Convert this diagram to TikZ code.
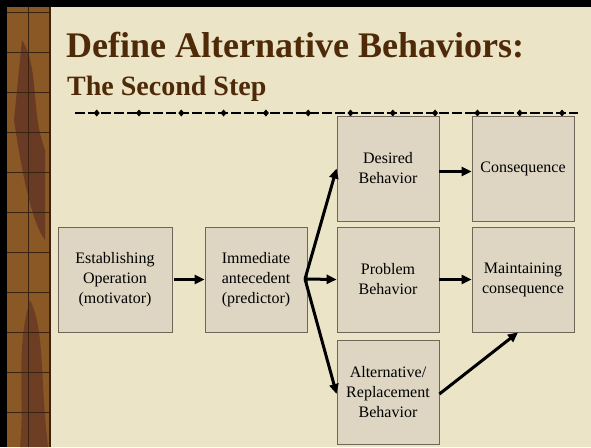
\documentclass[tikz,border=0pt]{standalone}
\usepackage{fontspec}
\setmainfont{Liberation Serif}
\usetikzlibrary{arrows.meta}

\definecolor{paper}{HTML}{EBE4C6}
\definecolor{boxfill}{HTML}{DED6C2}
\definecolor{boxline}{HTML}{6E6658}
\definecolor{titlebrown}{HTML}{4E2A08}
\definecolor{leather}{HTML}{8A5824}
\definecolor{leatherdark}{HTML}{5E3024}
\definecolor{stitch}{HTML}{3A2210}

\begin{document}
\begin{tikzpicture}[
    x=1pt, y=-1pt,
    every node/.style={font=\fontsize{16}{20}\selectfont},
    caja/.style={draw=boxline, line width=0.8pt, fill=boxfill, align=center,
                 minimum width=102pt, minimum height=105pt, inner sep=2pt},
    flecha/.style={line width=3pt, -{Triangle[length=10pt,width=9pt]}},
    titulo/.style={text=titlebrown, font=\bfseries\fontsize{36}{40}\selectfont, anchor=base west, inner sep=0pt},
    subtitulo/.style={text=titlebrown, font=\bfseries\fontsize{28}{32}\selectfont, anchor=base west, inner sep=0pt}
]
% Fondo
\fill[paper] (0,0) rectangle (591,447);
\useasboundingbox (0,0) rectangle (591,447);
% Franja izquierda
\fill[leather] (7,0) rectangle (50,447);
\fill[leatherdark, opacity=0.75] (22,40) .. controls (40,70) and (30,110) .. (45,150)
    -- (45,240) .. controls (30,220) and (20,160) .. (14,120) -- cycle;
\fill[leatherdark, opacity=0.65] (30,300) .. controls (45,330) and (40,380) .. (48,447)
    -- (20,447) .. controls (25,400) and (15,350) .. (30,300) -- cycle;
\draw[stitch, line width=0.6pt] (28,0) -- (28,447);
\foreach \y in {12,52,92,132,172,212,252,292,332,372,412} {
  \draw[stitch, line width=0.6pt] (7,\y) -- (50,\y);
}
\fill[stitch] (48.5,0) rectangle (51,447);
\fill[black] (0,0) rectangle (7,447);
\fill[black] (0,0) rectangle (591,7);
% Titulos
\node[titulo] (titulo) at (66,57) {Define Alternative Behaviors:};
\node[subtitulo] (subtitulo) at (67,95) {The Second Step};
% Linea punteada
\draw[black, line width=1.5pt, dash pattern=on 10pt off 3pt] (75,113) -- (578,113);
\foreach \i in {0,...,11} {
  \fill[black] ({96.7+42.3*\i},109.5) -- ({99.7+42.3*\i},113) -- ({96.7+42.3*\i},116.5) -- ({93.7+42.3*\i},113) -- cycle;
}
% Cajas
\node[caja, minimum width=114pt] (establishing) at (115,279.5) {Establishing\\Operation\\(motivator)};
\node[caja] (immediate) at (256,279.5) {Immediate\\antecedent\\(predictor)};
\node[caja] (desired) at (388,168.5) {Desired\\Behavior};
\node[caja] (problem) at (388,279.5) {Problem\\Behavior};
\node[caja, minimum height=104pt] (alternative) at (388,392) {Alternative/\\Replacement\\Behavior};
\node[caja] (consequence) at (523,168.5) {Consequence};
\node[caja] (maintaining) at (523,279.5) {Maintaining\\consequence};
% Aristas
\coordinate (abanico) at (305,279);
\draw[flecha, shorten <=2pt] (establishing.east) -- (immediate.west);
\draw[flecha] (abanico) -- (desired.west);
\draw[flecha] (abanico) -- (problem.west);
\draw[flecha] (abanico) -- ([yshift=-2pt]alternative.west);
\draw[flecha] ([yshift=-3pt]desired.east) -- ([yshift=-3pt]consequence.west);
\draw[flecha] (problem.east) -- (maintaining.west);
\draw[flecha] ([yshift=-2pt]alternative.east) -- ([xshift=-5pt]maintaining.south);
\end{tikzpicture}
\end{document}
